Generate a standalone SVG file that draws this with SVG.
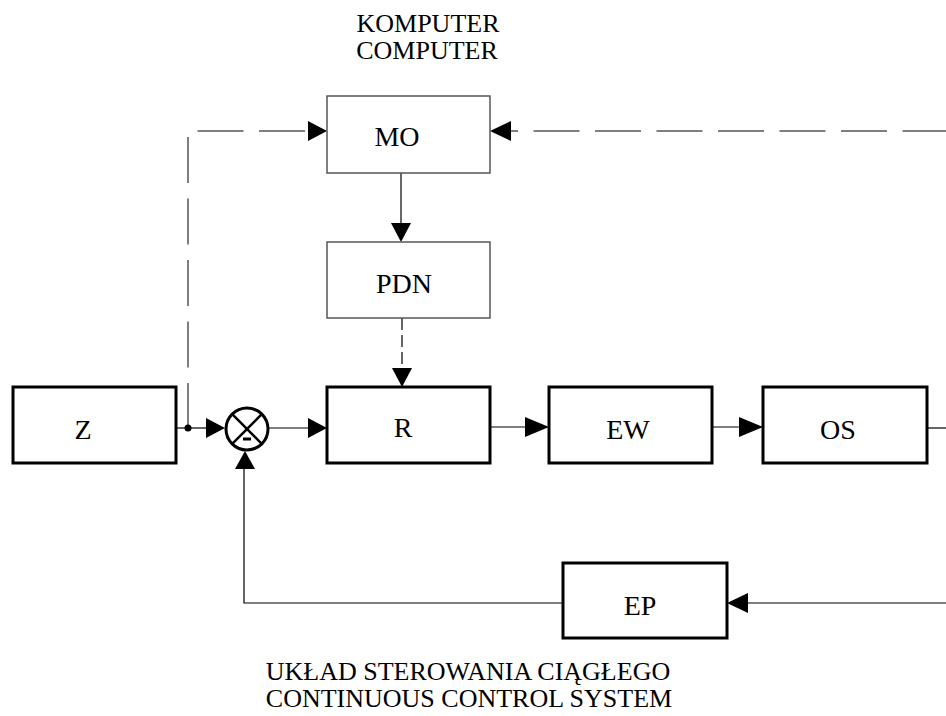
<svg xmlns="http://www.w3.org/2000/svg" width="946" height="716" viewBox="0 0 946 716">
  <style>
    text { font-family: "Liberation Serif", "Times New Roman", serif; fill: #000; }
    .lbl { font-size: 28px; text-anchor: middle; }
    .cap { font-size: 26px; text-anchor: middle; }
    .thick { fill: #fff; stroke: #000; stroke-width: 3; }
    .thin { fill: #fff; stroke: #555; stroke-width: 1.5; }
    .wire { fill: none; stroke: #000; stroke-width: 1.2; }
    .dash { fill: none; stroke: #555; stroke-width: 1.5; stroke-dasharray: 46 15.5; }
    .sdash { fill: none; stroke: #000; stroke-width: 1.2; stroke-dasharray: 12 5; }
    .head { fill: #000; stroke: none; }
  </style>

  <!-- captions -->
  <text class="cap" x="428" y="32">KOMPUTER</text>
  <text class="cap" x="427" y="59">COMPUTER</text>
  <text class="cap" x="468" y="680">UKŁAD STEROWANIA CIĄGŁEGO</text>
  <text class="cap" x="469" y="707">CONTINUOUS CONTROL SYSTEM</text>

  <!-- connectors -->
  <g id="connectors">
    <!-- setpoint tap to MO (dashed) -->
    <path class="dash" d="M188,429 V131 H308"/>
    <polygon class="head" points="327,131 308,121 308,141"/>
    <!-- plant output back to MO (dashed) -->
    <line class="dash" x1="511" y1="131" x2="946" y2="131" stroke-dashoffset="39"/>
    <polygon class="head" points="490,131 511,121 511,141"/>
    <!-- MO to PDN -->
    <line class="wire" x1="401" y1="173" x2="401" y2="224"/>
    <polygon class="head" points="401,242 391,223 411,223"/>
    <!-- PDN to R (dashed) -->
    <line class="sdash" x1="402" y1="318" x2="402" y2="369"/>
    <polygon class="head" points="402,387 392,368 412,368"/>
    <!-- Z to summing junction -->
    <line class="wire" x1="176" y1="428" x2="207" y2="428"/>
    <circle cx="188" cy="428" r="3.5" fill="#000"/>
    <polygon class="head" points="225,428 206,418 206,438"/>
    <!-- summing junction to R -->
    <line class="wire" x1="268" y1="428" x2="309" y2="428"/>
    <polygon class="head" points="327,428 308,418 308,438"/>
    <!-- R to EW -->
    <line class="wire" x1="490" y1="427" x2="531" y2="427"/>
    <polygon class="head" points="549,427 525,417 525,437"/>
    <!-- EW to OS -->
    <line class="wire" x1="712" y1="427" x2="745" y2="427"/>
    <polygon class="head" points="763,427 739,417 739,437"/>
    <!-- OS output -->
    <line class="wire" x1="927" y1="428" x2="946" y2="428"/>
    <!-- feedback into EP -->
    <line class="wire" x1="946" y1="603" x2="745" y2="603"/>
    <polygon class="head" points="727,603 748,593 748,613"/>
    <!-- EP back to summing junction -->
    <path class="wire" d="M563,603 H244 V466"/>
    <polygon class="head" points="245,451 235,469 255,469"/>
  </g>

  <!-- summing junction -->
  <g id="sum">
    <circle cx="247" cy="429" r="21" fill="#fff" stroke="#000" stroke-width="3"/>
    <line x1="232.2" y1="414.2" x2="261.8" y2="443.8" stroke="#000" stroke-width="2.5"/>
    <line x1="261.8" y1="414.2" x2="232.2" y2="443.8" stroke="#000" stroke-width="2.5"/>
    <rect x="243" y="437.5" width="8" height="3" fill="#000"/>
  </g>

  <g id="Z">
    <rect class="thick" x="13" y="387" width="163" height="76"/>
    <text class="lbl" x="83" y="439">Z</text>
  </g>
  <g id="MO">
    <rect class="thin" x="327" y="96" width="163" height="77"/>
    <text class="lbl" x="397" y="146">MO</text>
  </g>
  <g id="PDN">
    <rect class="thin" x="327" y="242" width="163" height="76"/>
    <text class="lbl" x="404" y="293">PDN</text>
  </g>
  <g id="R">
    <rect class="thick" x="327" y="387" width="163" height="76"/>
    <text class="lbl" x="403" y="437">R</text>
  </g>
  <g id="EW">
    <rect class="thick" x="549" y="387" width="163" height="76"/>
    <text class="lbl" x="628" y="439">EW</text>
  </g>
  <g id="OS">
    <rect class="thick" x="763" y="387" width="164" height="76"/>
    <text class="lbl" x="838" y="439">OS</text>
  </g>
  <g id="EP">
    <rect class="thick" x="563" y="563" width="164" height="75"/>
    <text class="lbl" x="640" y="615">EP</text>
  </g>
</svg>
